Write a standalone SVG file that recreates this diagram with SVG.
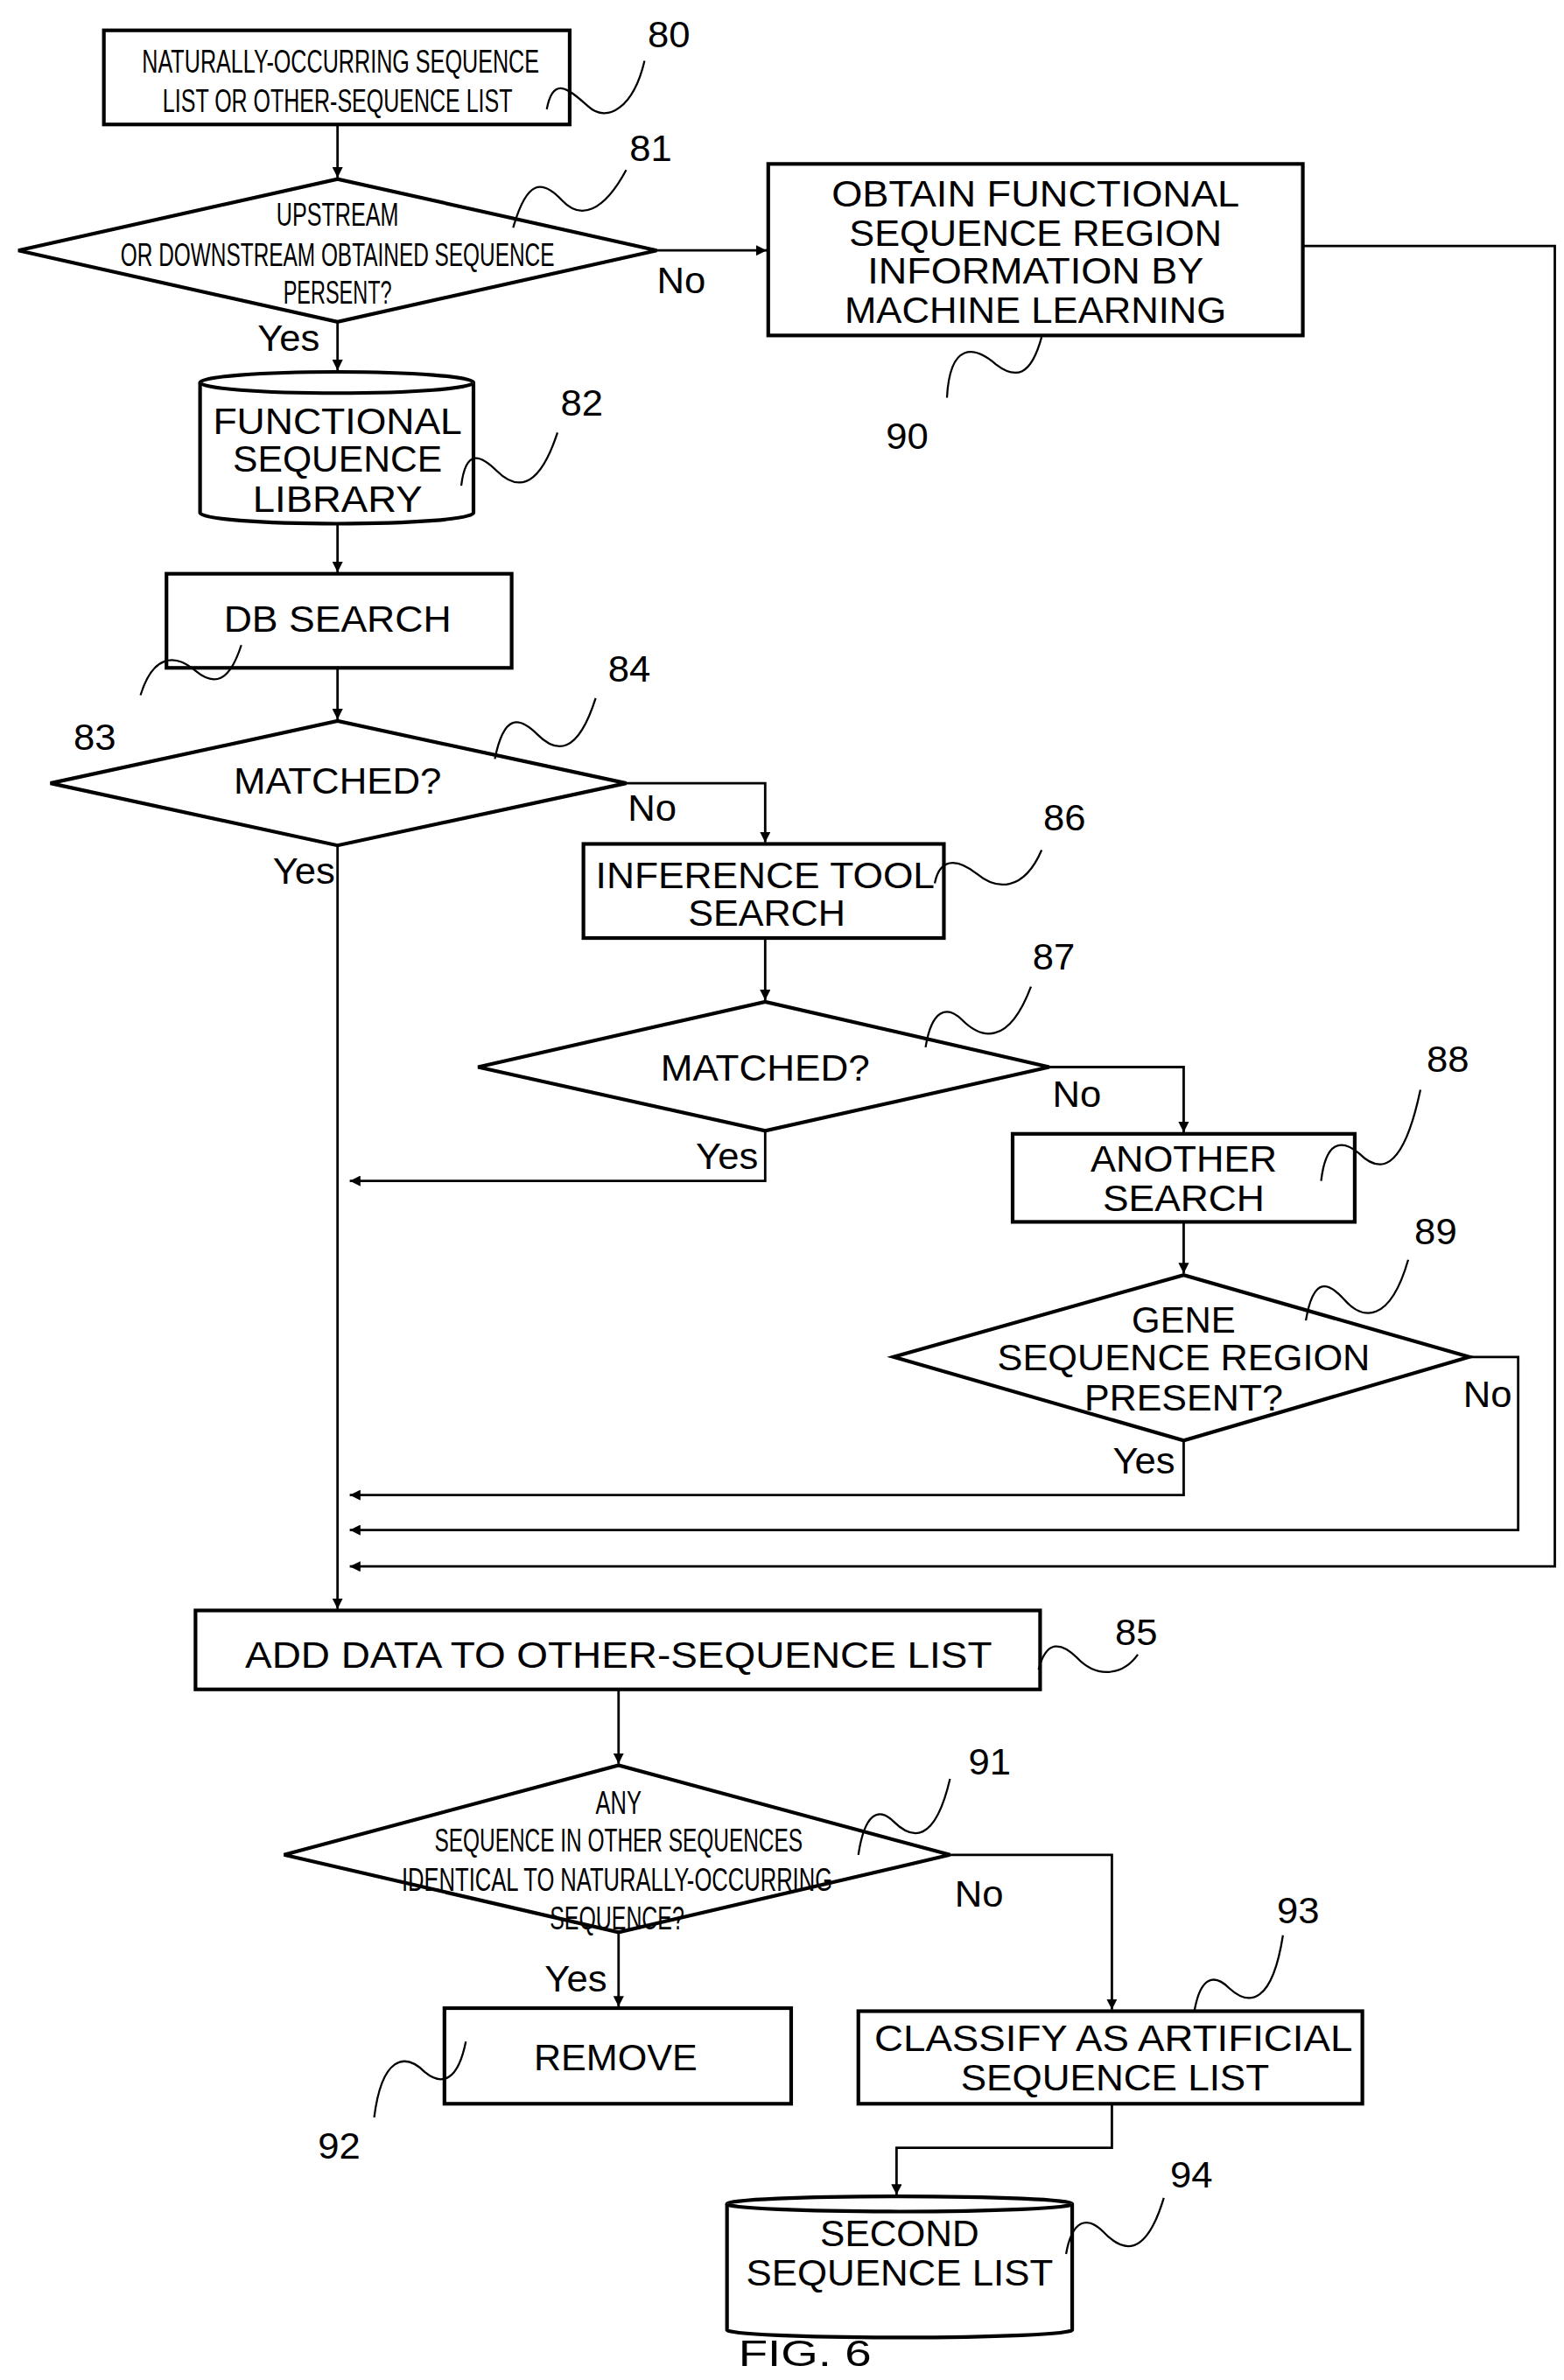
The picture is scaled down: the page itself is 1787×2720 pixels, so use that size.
<svg xmlns="http://www.w3.org/2000/svg" width="1787" height="2720" viewBox="0 0 1787 2720">
<style>
.b{fill:#fff;stroke:#000;stroke-width:2.4}
.c{fill:none;stroke:#000;stroke-width:1.6}
.l{fill:none;stroke:#000;stroke-width:1.3}
text{font-family:"Liberation Sans",Arial,sans-serif;font-size:25px;fill:#000;text-anchor:middle}
.s{font-size:21px}
</style>
<defs><marker id="a" viewBox="0 0 10 10" refX="10" refY="5" markerWidth="7" markerHeight="7" orient="auto" markerUnits="userSpaceOnUse"><path d="M0,0L10,5L0,10z" fill="#000"/></marker></defs>
<rect width="1787" height="2720" fill="#fff"/>
<g transform="scale(1.7451,1.7347)">
<g id="connectors">
<path class="c" d="M221,82V117" marker-end="url(#a)"/>
<path class="c" d="M430,165H502" marker-end="url(#a)"/>
<path class="c" d="M853,162H1018V1032H229" marker-end="url(#a)"/>
<path class="c" d="M221,212V244" marker-end="url(#a)"/>
<path class="c" d="M221,345V377" marker-end="url(#a)"/>
<path class="c" d="M221,440V474" marker-end="url(#a)"/>
<path class="c" d="M410,516H501V555" marker-end="url(#a)"/>
<path class="c" d="M221,557V1060" marker-end="url(#a)"/>
<path class="c" d="M501,618V659" marker-end="url(#a)"/>
<path class="c" d="M687,703H775V746" marker-end="url(#a)"/>
<path class="c" d="M501,745V778H229" marker-end="url(#a)"/>
<path class="c" d="M775,805V839" marker-end="url(#a)"/>
<path class="c" d="M962,894H994V1008H229" marker-end="url(#a)"/>
<path class="c" d="M775,949V985H229" marker-end="url(#a)"/>
<path class="c" d="M405,1113V1162" marker-end="url(#a)"/>
<path class="c" d="M622,1222H728V1324" marker-end="url(#a)"/>
<path class="c" d="M405,1273V1322" marker-end="url(#a)"/>
<path class="c" d="M728,1386V1415H587V1446" marker-end="url(#a)"/>
<text x="446" y="193">No</text>
<text x="189" y="231">Yes</text>
<text x="427" y="541">No</text>
<text x="199" y="582">Yes</text>
<text x="705" y="729">No</text>
<text x="476" y="770">Yes</text>
<text x="974" y="927">No</text>
<text x="749" y="971">Yes</text>
<text x="641" y="1256">No</text>
<text x="377" y="1312">Yes</text>
</g>
<g id="n80">
<rect class="b" x="68" y="20" width="305" height="62"/>
<text class="s" x="223" y="48" textLength="260" lengthAdjust="spacingAndGlyphs">NATURALLY-OCCURRING SEQUENCE</text>
<text class="s" x="221" y="74" textLength="229" lengthAdjust="spacingAndGlyphs">LIST OR OTHER-SEQUENCE LIST</text>
<path class="l" d="M358,72C362,50 372,58 385,70C398,82 415,70 422,40"/><text x="438" y="31">80</text>
</g>
<g id="n81">
<path class="b" d="M12,165L221,118L430,165L221,212Z"/>
<text class="s" x="221" y="149" textLength="80" lengthAdjust="spacingAndGlyphs">UPSTREAM</text>
<text class="s" x="221" y="175" textLength="284" lengthAdjust="spacingAndGlyphs">OR DOWNSTREAM OBTAINED SEQUENCE</text>
<text class="s" x="221" y="200" textLength="71" lengthAdjust="spacingAndGlyphs">PERSENT?</text>
<path class="l" d="M336,150C345,118 355,118 368,132C380,145 395,140 410,112"/><text x="426" y="106">81</text>
</g>
<g id="n90">
<rect class="b" x="503" y="108" width="350" height="113"/>
<text x="678" y="136" textLength="267" lengthAdjust="spacingAndGlyphs">OBTAIN FUNCTIONAL</text>
<text x="678" y="162" textLength="244" lengthAdjust="spacingAndGlyphs">SEQUENCE REGION</text>
<text x="678" y="187" textLength="220" lengthAdjust="spacingAndGlyphs">INFORMATION BY</text>
<text x="678" y="213" textLength="250" lengthAdjust="spacingAndGlyphs">MACHINE LEARNING</text>
<path class="l" d="M682,222C675,248 665,250 652,240C638,228 622,225 620,262"/><text x="594" y="296">90</text>
</g>
<g id="n82">
<path class="b" d="M131,252A89.5,7 0 0 1 310,252L310,338A89.5,7 0 0 1 131,338Z"/>
<path class="b" d="M131,252A89.5,7 0 0 0 310,252"/>
<text x="221" y="286" textLength="163" lengthAdjust="spacingAndGlyphs">FUNCTIONAL</text>
<text x="221" y="311" textLength="137" lengthAdjust="spacingAndGlyphs">SEQUENCE</text>
<text x="221" y="337" textLength="111" lengthAdjust="spacingAndGlyphs">LIBRARY</text>
<path class="l" d="M302,320C305,295 315,300 325,310C337,322 352,325 365,285"/><text x="381" y="274">82</text>
</g>
<g id="n83">
<rect class="b" x="109" y="378" width="226" height="62"/>
<text x="221" y="416" textLength="149" lengthAdjust="spacingAndGlyphs">DB SEARCH</text>
<path class="l" d="M158,425C150,450 140,452 128,442C114,430 100,432 92,458"/><text x="62" y="494">83</text>
</g>
<g id="n84">
<path class="b" d="M33,516L221,475L410,516L221,557Z"/>
<text x="221" y="523" textLength="136" lengthAdjust="spacingAndGlyphs">MATCHED?</text>
<path class="l" d="M324,500C330,470 340,472 352,484C364,496 378,498 390,460"/><text x="412" y="449">84</text>
</g>
<g id="n86">
<rect class="b" x="382" y="556" width="236" height="62"/>
<text x="501" y="585" textLength="222" lengthAdjust="spacingAndGlyphs">INFERENCE TOOL</text>
<text x="502" y="610" textLength="103" lengthAdjust="spacingAndGlyphs">SEARCH</text>
<path class="l" d="M612,582C616,562 630,568 640,576C652,586 670,588 682,560"/><text x="697" y="547">86</text>
</g>
<g id="n87">
<path class="b" d="M313,703L501,660L687,703L501,745Z"/>
<text x="501" y="712" textLength="137" lengthAdjust="spacingAndGlyphs">MATCHED?</text>
<path class="l" d="M606,690C610,665 620,662 630,672C642,684 660,690 675,650"/><text x="690" y="639">87</text>
</g>
<g id="n88">
<rect class="b" x="663" y="747" width="224" height="58"/>
<text x="775" y="772" textLength="122" lengthAdjust="spacingAndGlyphs">ANOTHER</text>
<text x="775" y="798" textLength="106" lengthAdjust="spacingAndGlyphs">SEARCH</text>
<path class="l" d="M865,778C868,752 878,750 890,760C902,772 918,775 930,718"/><text x="948" y="706">88</text>
</g>
<g id="n89">
<path class="b" d="M585,894L775,840L962,894L775,949Z"/>
<text x="775" y="878" textLength="68" lengthAdjust="spacingAndGlyphs">GENE</text>
<text x="775" y="903" textLength="244" lengthAdjust="spacingAndGlyphs">SEQUENCE REGION</text>
<text x="775" y="929" textLength="130" lengthAdjust="spacingAndGlyphs">PRESENT?</text>
<path class="l" d="M855,870C860,840 870,845 880,856C892,870 910,872 922,830"/><text x="940" y="820">89</text>
</g>
<g id="n85">
<rect class="b" x="128" y="1061" width="553" height="52"/>
<text x="405" y="1099" textLength="489" lengthAdjust="spacingAndGlyphs">ADD DATA TO OTHER-SEQUENCE LIST</text>
<path class="l" d="M680,1100C685,1080 695,1082 705,1092C718,1106 735,1104 745,1090"/><text x="744" y="1084">85</text>
</g>
<g id="n91">
<path class="b" d="M186,1222L405,1163L622,1222L405,1273Z"/>
<text class="s" x="405" y="1195" textLength="30" lengthAdjust="spacingAndGlyphs">ANY</text>
<text class="s" x="405" y="1220" textLength="241" lengthAdjust="spacingAndGlyphs">SEQUENCE IN OTHER SEQUENCES</text>
<text class="s" x="404" y="1246" textLength="282" lengthAdjust="spacingAndGlyphs">IDENTICAL TO NATURALLY-OCCURRING</text>
<text class="s" x="404" y="1271" textLength="88" lengthAdjust="spacingAndGlyphs">SEQUENCE?</text>
<path class="l" d="M562,1222C566,1195 575,1190 585,1200C597,1212 612,1215 622,1172"/><text x="648" y="1169">91</text>
</g>
<g id="n92">
<rect class="b" x="291" y="1323" width="227" height="63"/>
<text x="403" y="1364" textLength="107" lengthAdjust="spacingAndGlyphs">REMOVE</text>
<path class="l" d="M305,1345C300,1370 290,1375 278,1365C265,1352 250,1355 245,1395"/><text x="222" y="1422">92</text>
</g>
<g id="n93">
<rect class="b" x="562" y="1325" width="330" height="61"/>
<text x="729" y="1351" textLength="313" lengthAdjust="spacingAndGlyphs">CLASSIFY AS ARTIFICIAL</text>
<text x="730" y="1377" textLength="202" lengthAdjust="spacingAndGlyphs">SEQUENCE LIST</text>
<path class="l" d="M782,1325C786,1302 795,1300 805,1310C818,1322 833,1320 840,1275"/><text x="850" y="1267">93</text>
</g>
<g id="n94">
<path class="b" d="M476,1452A113,5 0 0 1 702,1452L702,1535A113,5 0 0 1 476,1535Z"/>
<path class="b" d="M476,1452A113,5 0 0 0 702,1452"/>
<text x="589" y="1480" textLength="104" lengthAdjust="spacingAndGlyphs">SECOND</text>
<text x="589" y="1506" textLength="201" lengthAdjust="spacingAndGlyphs">SEQUENCE LIST</text>
<path class="l" d="M698,1485C702,1462 712,1460 722,1470C735,1484 750,1488 762,1448"/><text x="780" y="1441">94</text>
</g>
<text x="527" y="1559" textLength="87" lengthAdjust="spacingAndGlyphs">FIG. 6</text>
</g>
</svg>
